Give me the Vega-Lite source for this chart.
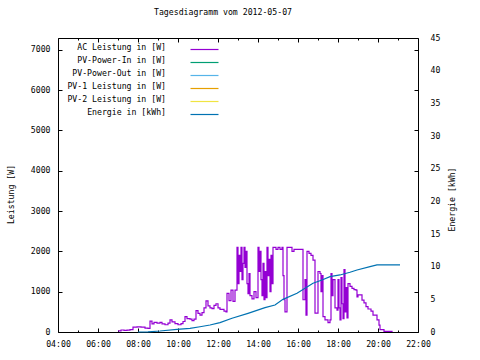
{
  "$schema": "https://vega.github.io/schema/vega-lite/v6.json",
  "width": 360,
  "height": 294,
  "autosize": {"type": "none"},
  "padding": {"left": 58, "top": 38, "right": 62, "bottom": 28},
  "title": {"text": "Tagesdiagramm vom 2012-05-07", "font": "DejaVu Sans Mono", "fontSize": 8.2, "fontWeight": "normal", "color": "black", "anchor": "middle", "offset": 16, "dx": -15},
  "config": {
    "view": {"stroke": "black", "strokeWidth": 1},
    "font": "DejaVu Sans Mono",
    "axis": {"domain": false, "grid": false, "labelFont": "DejaVu Sans Mono", "labelFontSize": 8.2, "labelColor": "black", "titleFont": "DejaVu Sans Mono", "titleFontSize": 8.2, "titleFontWeight": "normal", "titleColor": "black", "tickColor": "black", "tickWidth": 1},
    "legend": {"labelFont": "DejaVu Sans Mono", "labelFontSize": 8.2, "labelColor": "black"}
  },
  "datasets": {
    "power": [
      {"time": "2012-05-07T07:00", "watt": 30},
      {"time": "2012-05-07T07:09", "watt": 50},
      {"time": "2012-05-07T07:18", "watt": 40},
      {"time": "2012-05-07T07:27", "watt": 45},
      {"time": "2012-05-07T07:36", "watt": 60},
      {"time": "2012-05-07T07:45", "watt": 120},
      {"time": "2012-05-07T07:57", "watt": 125},
      {"time": "2012-05-07T08:09", "watt": 120},
      {"time": "2012-05-07T08:21", "watt": 95},
      {"time": "2012-05-07T08:30", "watt": 90},
      {"time": "2012-05-07T08:36", "watt": 270},
      {"time": "2012-05-07T08:42", "watt": 200},
      {"time": "2012-05-07T08:48", "watt": 240},
      {"time": "2012-05-07T08:57", "watt": 220},
      {"time": "2012-05-07T09:06", "watt": 240},
      {"time": "2012-05-07T09:12", "watt": 200},
      {"time": "2012-05-07T09:21", "watt": 180},
      {"time": "2012-05-07T09:30", "watt": 220},
      {"time": "2012-05-07T09:36", "watt": 300},
      {"time": "2012-05-07T09:42", "watt": 250},
      {"time": "2012-05-07T09:51", "watt": 210},
      {"time": "2012-05-07T10:00", "watt": 180},
      {"time": "2012-05-07T10:09", "watt": 210},
      {"time": "2012-05-07T10:15", "watt": 260},
      {"time": "2012-05-07T10:21", "watt": 380},
      {"time": "2012-05-07T10:27", "watt": 330},
      {"time": "2012-05-07T10:36", "watt": 320},
      {"time": "2012-05-07T10:42", "watt": 280},
      {"time": "2012-05-07T10:48", "watt": 320},
      {"time": "2012-05-07T10:54", "watt": 530},
      {"time": "2012-05-07T11:00", "watt": 460},
      {"time": "2012-05-07T11:06", "watt": 420},
      {"time": "2012-05-07T11:12", "watt": 480},
      {"time": "2012-05-07T11:18", "watt": 600},
      {"time": "2012-05-07T11:24", "watt": 770},
      {"time": "2012-05-07T11:30", "watt": 650},
      {"time": "2012-05-07T11:36", "watt": 600},
      {"time": "2012-05-07T11:42", "watt": 580},
      {"time": "2012-05-07T11:48", "watt": 660},
      {"time": "2012-05-07T11:54", "watt": 700},
      {"time": "2012-05-07T12:00", "watt": 600},
      {"time": "2012-05-07T12:06", "watt": 560},
      {"time": "2012-05-07T12:12", "watt": 560},
      {"time": "2012-05-07T12:18", "watt": 520},
      {"time": "2012-05-07T12:24", "watt": 500},
      {"time": "2012-05-07T12:27", "watt": 960},
      {"time": "2012-05-07T12:33", "watt": 780},
      {"time": "2012-05-07T12:39", "watt": 1040},
      {"time": "2012-05-07T12:45", "watt": 760},
      {"time": "2012-05-07T12:51", "watt": 1040},
      {"time": "2012-05-07T12:57", "watt": 2100},
      {"time": "2012-05-07T13:00", "watt": 1200},
      {"time": "2012-05-07T13:03", "watt": 1900},
      {"time": "2012-05-07T13:06", "watt": 1500},
      {"time": "2012-05-07T13:09", "watt": 2100},
      {"time": "2012-05-07T13:12", "watt": 1300},
      {"time": "2012-05-07T13:15", "watt": 1700},
      {"time": "2012-05-07T13:18", "watt": 2100},
      {"time": "2012-05-07T13:21", "watt": 1600},
      {"time": "2012-05-07T13:24", "watt": 2000},
      {"time": "2012-05-07T13:27", "watt": 1200},
      {"time": "2012-05-07T13:30", "watt": 950},
      {"time": "2012-05-07T13:33", "watt": 1450},
      {"time": "2012-05-07T13:36", "watt": 900},
      {"time": "2012-05-07T13:42", "watt": 820},
      {"time": "2012-05-07T13:48", "watt": 1000},
      {"time": "2012-05-07T13:54", "watt": 850},
      {"time": "2012-05-07T14:00", "watt": 2100},
      {"time": "2012-05-07T14:03", "watt": 1500},
      {"time": "2012-05-07T14:06", "watt": 2000},
      {"time": "2012-05-07T14:09", "watt": 1300},
      {"time": "2012-05-07T14:12", "watt": 900},
      {"time": "2012-05-07T14:15", "watt": 1700},
      {"time": "2012-05-07T14:18", "watt": 800},
      {"time": "2012-05-07T14:21", "watt": 1500},
      {"time": "2012-05-07T14:24", "watt": 850},
      {"time": "2012-05-07T14:27", "watt": 2100},
      {"time": "2012-05-07T14:30", "watt": 1400},
      {"time": "2012-05-07T14:33", "watt": 1800},
      {"time": "2012-05-07T14:36", "watt": 1000},
      {"time": "2012-05-07T14:39", "watt": 1900},
      {"time": "2012-05-07T14:42", "watt": 1200},
      {"time": "2012-05-07T14:45", "watt": 2100},
      {"time": "2012-05-07T14:54", "watt": 2050},
      {"time": "2012-05-07T15:00", "watt": 2100},
      {"time": "2012-05-07T15:06", "watt": 2050},
      {"time": "2012-05-07T15:12", "watt": 2100},
      {"time": "2012-05-07T15:15", "watt": 1400},
      {"time": "2012-05-07T15:18", "watt": 800},
      {"time": "2012-05-07T15:21", "watt": 500},
      {"time": "2012-05-07T15:27", "watt": 2100},
      {"time": "2012-05-07T15:42", "watt": 2000},
      {"time": "2012-05-07T15:48", "watt": 2050},
      {"time": "2012-05-07T16:15", "watt": 800},
      {"time": "2012-05-07T16:21", "watt": 1300},
      {"time": "2012-05-07T16:24", "watt": 420},
      {"time": "2012-05-07T16:27", "watt": 2000},
      {"time": "2012-05-07T16:33", "watt": 1950},
      {"time": "2012-05-07T16:39", "watt": 1900},
      {"time": "2012-05-07T16:45", "watt": 1780},
      {"time": "2012-05-07T16:51", "watt": 470},
      {"time": "2012-05-07T17:00", "watt": 1500},
      {"time": "2012-05-07T17:06", "watt": 1450},
      {"time": "2012-05-07T17:09", "watt": 1000},
      {"time": "2012-05-07T17:12", "watt": 1400},
      {"time": "2012-05-07T17:15", "watt": 380},
      {"time": "2012-05-07T17:21", "watt": 300},
      {"time": "2012-05-07T17:30", "watt": 230},
      {"time": "2012-05-07T17:36", "watt": 300},
      {"time": "2012-05-07T17:39", "watt": 1450},
      {"time": "2012-05-07T17:42", "watt": 900},
      {"time": "2012-05-07T17:45", "watt": 1300},
      {"time": "2012-05-07T17:51", "watt": 600},
      {"time": "2012-05-07T17:57", "watt": 540},
      {"time": "2012-05-07T18:00", "watt": 1300},
      {"time": "2012-05-07T18:03", "watt": 600},
      {"time": "2012-05-07T18:06", "watt": 300},
      {"time": "2012-05-07T18:09", "watt": 1350},
      {"time": "2012-05-07T18:12", "watt": 700},
      {"time": "2012-05-07T18:15", "watt": 330},
      {"time": "2012-05-07T18:18", "watt": 1550},
      {"time": "2012-05-07T18:21", "watt": 500},
      {"time": "2012-05-07T18:24", "watt": 1100},
      {"time": "2012-05-07T18:27", "watt": 350},
      {"time": "2012-05-07T18:30", "watt": 1200},
      {"time": "2012-05-07T18:36", "watt": 1130},
      {"time": "2012-05-07T18:42", "watt": 1080},
      {"time": "2012-05-07T18:48", "watt": 1050},
      {"time": "2012-05-07T18:54", "watt": 1040},
      {"time": "2012-05-07T18:57", "watt": 870},
      {"time": "2012-05-07T19:00", "watt": 920},
      {"time": "2012-05-07T19:12", "watt": 790},
      {"time": "2012-05-07T19:18", "watt": 720},
      {"time": "2012-05-07T19:24", "watt": 630},
      {"time": "2012-05-07T19:30", "watt": 570},
      {"time": "2012-05-07T19:39", "watt": 520},
      {"time": "2012-05-07T19:45", "watt": 420},
      {"time": "2012-05-07T19:57", "watt": 300},
      {"time": "2012-05-07T20:03", "watt": 170},
      {"time": "2012-05-07T20:06", "watt": 60},
      {"time": "2012-05-07T20:18", "watt": 15},
      {"time": "2012-05-07T20:42", "watt": 0}
    ],
    "energy": [
      {"time": "2012-05-07T08:00", "kwh": 0},
      {"time": "2012-05-07T08:30", "kwh": 0.02},
      {"time": "2012-05-07T09:06", "kwh": 0.15},
      {"time": "2012-05-07T09:57", "kwh": 0.4},
      {"time": "2012-05-07T10:36", "kwh": 0.56},
      {"time": "2012-05-07T11:06", "kwh": 0.8},
      {"time": "2012-05-07T11:36", "kwh": 1.07},
      {"time": "2012-05-07T12:06", "kwh": 1.43},
      {"time": "2012-05-07T12:42", "kwh": 2.1},
      {"time": "2012-05-07T13:30", "kwh": 2.86},
      {"time": "2012-05-07T14:21", "kwh": 3.72},
      {"time": "2012-05-07T14:51", "kwh": 4.13},
      {"time": "2012-05-07T15:15", "kwh": 5.0},
      {"time": "2012-05-07T15:57", "kwh": 5.93},
      {"time": "2012-05-07T16:45", "kwh": 7.46},
      {"time": "2012-05-07T17:12", "kwh": 7.96},
      {"time": "2012-05-07T17:36", "kwh": 8.47},
      {"time": "2012-05-07T18:06", "kwh": 8.73},
      {"time": "2012-05-07T18:36", "kwh": 9.14},
      {"time": "2012-05-07T18:57", "kwh": 9.49},
      {"time": "2012-05-07T19:36", "kwh": 10.0},
      {"time": "2012-05-07T19:57", "kwh": 10.26},
      {"time": "2012-05-07T21:06", "kwh": 10.26}
    ]
  },
  "layer": [
    {
      "data": {"name": "power"},
      "mark": {"type": "line", "interpolate": "step-after", "strokeWidth": 1.2},
      "encoding": {
        "x": {
          "field": "time", "type": "temporal", "title": null,
          "scale": {"domain": [{"year": 2012, "month": 5, "date": 7, "hours": 4}, {"year": 2012, "month": 5, "date": 7, "hours": 22}]},
          "axis": {
            "orient": "bottom",
            "values": [
              {"year": 2012, "month": 5, "date": 7, "hours": 4}, {"year": 2012, "month": 5, "date": 7, "hours": 5},
              {"year": 2012, "month": 5, "date": 7, "hours": 6}, {"year": 2012, "month": 5, "date": 7, "hours": 7},
              {"year": 2012, "month": 5, "date": 7, "hours": 8}, {"year": 2012, "month": 5, "date": 7, "hours": 9},
              {"year": 2012, "month": 5, "date": 7, "hours": 10}, {"year": 2012, "month": 5, "date": 7, "hours": 11},
              {"year": 2012, "month": 5, "date": 7, "hours": 12}, {"year": 2012, "month": 5, "date": 7, "hours": 13},
              {"year": 2012, "month": 5, "date": 7, "hours": 14}, {"year": 2012, "month": 5, "date": 7, "hours": 15},
              {"year": 2012, "month": 5, "date": 7, "hours": 16}, {"year": 2012, "month": 5, "date": 7, "hours": 17},
              {"year": 2012, "month": 5, "date": 7, "hours": 18}, {"year": 2012, "month": 5, "date": 7, "hours": 19},
              {"year": 2012, "month": 5, "date": 7, "hours": 20}, {"year": 2012, "month": 5, "date": 7, "hours": 21},
              {"year": 2012, "month": 5, "date": 7, "hours": 22}
            ],
            "labelExpr": "hours(datum.value) % 2 == 0 ? timeFormat(datum.value, '%H:%M') : ''",
            "tickSize": {"condition": {"test": "hours(datum.value) % 2 == 0", "value": -4}, "value": -2},
            "labelPadding": 12,
            "labelFlush": false,
            "labelOverlap": false
          }
        },
        "y": {
          "field": "watt", "type": "quantitative",
          "scale": {"domain": [0, 7290], "nice": false, "zero": true},
          "axis": {
            "orient": "left",
            "values": [0, 1000, 2000, 3000, 4000, 5000, 6000, 7000],
            "format": "d",
            "tickSize": -4,
            "labelPadding": 12,
            "title": "Leistung [W]",
            "titleAngle": -90,
            "titleAlign": "center",
            "titleBaseline": "middle",
            "titleX": -47,
            "titleY": 156
          }
        },
        "color": {
          "datum": "AC Leistung in [W]",
          "type": "nominal",
          "scale": {
            "domain": ["AC Leistung in [W]", "PV-Power-In in [W]", "PV-Power-Out in [W]", "PV-1 Leistung in [W]", "PV-2 Leistung in [W]", "Energie in [kWh]"],
            "range": ["#9400d3", "#009e73", "#56b4e9", "#e69f00", "#f0e442", "#0072b2"]
          },
          "legend": {
            "orient": "none", "legendX": 141, "legendY": 6,
            "title": null, "padding": 0,
            "symbolType": "M-3,0H3", "symbolSize": 87, "symbolStrokeWidth": 1.2,
            "labelAlign": "right", "labelOffset": -44, "labelBaseline": "alphabetic",
            "labelLimit": 0, "rowPadding": 3,
            "encode": {"symbols": {"update": {"stroke": {"scale": "color", "field": "value"}, "fill": {"value": "transparent"}}}}
          }
        }
      }
    },
    {
      "data": {"name": "energy"},
      "mark": {"type": "line", "strokeWidth": 1.2},
      "encoding": {
        "x": {
          "field": "time", "type": "temporal", "title": null,
          "axis": {
            "orient": "top",
            "values": [
              {"year": 2012, "month": 5, "date": 7, "hours": 4}, {"year": 2012, "month": 5, "date": 7, "hours": 5},
              {"year": 2012, "month": 5, "date": 7, "hours": 6}, {"year": 2012, "month": 5, "date": 7, "hours": 7},
              {"year": 2012, "month": 5, "date": 7, "hours": 8}, {"year": 2012, "month": 5, "date": 7, "hours": 9},
              {"year": 2012, "month": 5, "date": 7, "hours": 10}, {"year": 2012, "month": 5, "date": 7, "hours": 11},
              {"year": 2012, "month": 5, "date": 7, "hours": 12}, {"year": 2012, "month": 5, "date": 7, "hours": 13},
              {"year": 2012, "month": 5, "date": 7, "hours": 14}, {"year": 2012, "month": 5, "date": 7, "hours": 15},
              {"year": 2012, "month": 5, "date": 7, "hours": 16}, {"year": 2012, "month": 5, "date": 7, "hours": 17},
              {"year": 2012, "month": 5, "date": 7, "hours": 18}, {"year": 2012, "month": 5, "date": 7, "hours": 19},
              {"year": 2012, "month": 5, "date": 7, "hours": 20}, {"year": 2012, "month": 5, "date": 7, "hours": 21},
              {"year": 2012, "month": 5, "date": 7, "hours": 22}
            ],
            "labels": false,
            "tickSize": {"condition": {"test": "hours(datum.value) % 2 == 0", "value": -4}, "value": -2}
          }
        },
        "y": {
          "field": "kwh", "type": "quantitative",
          "scale": {"domain": [0, 45], "nice": false},
          "axis": {
            "orient": "right",
            "values": [0, 5, 10, 15, 20, 25, 30, 35, 40, 45],
            "ticks": false,
            "labelPadding": 12,
            "title": "Energie [kWh]",
            "titleAngle": -90,
            "titleAlign": "center",
            "titleBaseline": "middle",
            "titleX": 34.5,
            "titleY": 161
          }
        },
        "color": {"datum": "Energie in [kWh]", "type": "nominal"}
      }
    },
    {
      "data": {"name": "power"},
      "mark": {"type": "line", "opacity": 0},
      "encoding": {
        "x": {"field": "time", "type": "temporal", "axis": null},
        "y": {
          "field": "watt", "type": "quantitative",
          "scale": {"domain": [0, 7290], "nice": false},
          "axis": {"orient": "right", "values": [0, 1000, 2000, 3000, 4000, 5000, 6000, 7000], "labels": false, "tickSize": -4, "title": null}
        }
      }
    }
  ],
  "resolve": {"scale": {"y": "independent"}, "axis": {"x": "independent"}}
}
